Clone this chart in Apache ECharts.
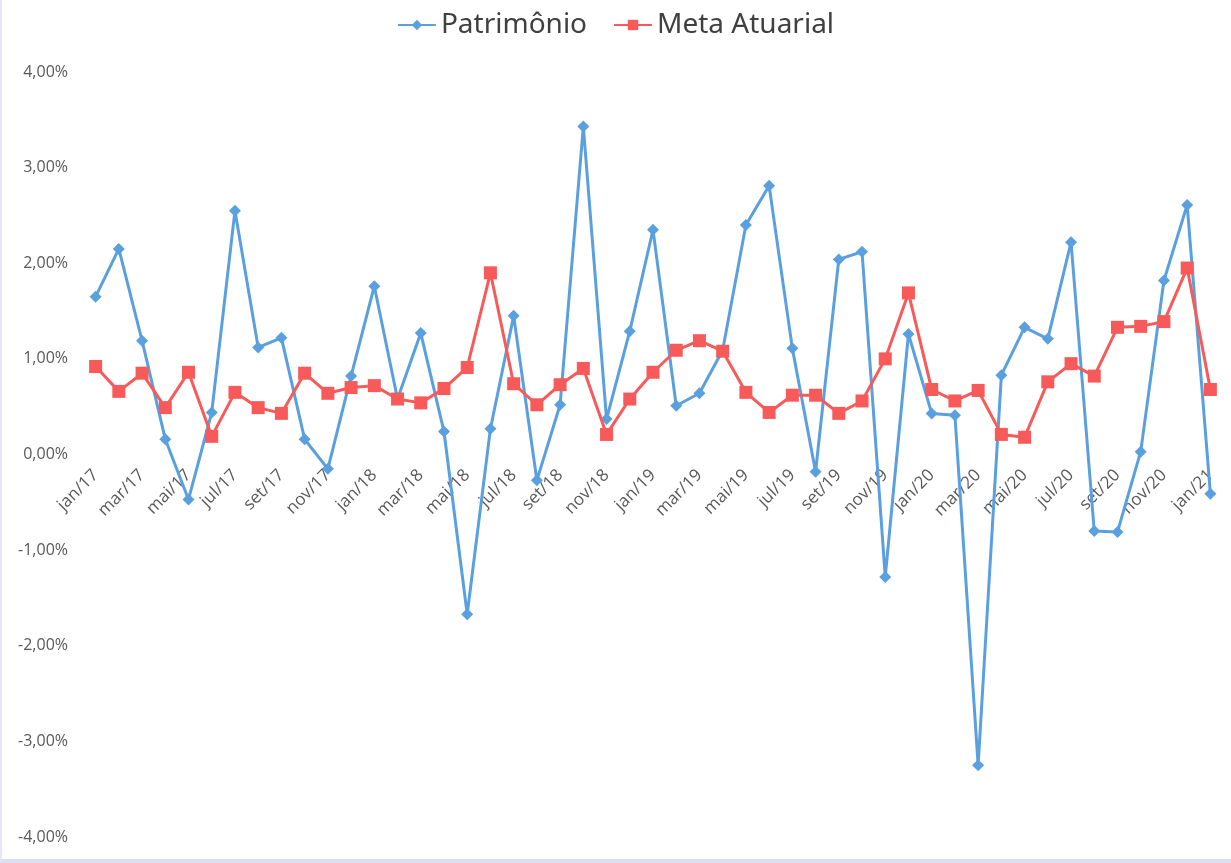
<!DOCTYPE html>
<html>
<head>
<meta charset="utf-8">
<script src="https://cdn.jsdelivr.net/npm/echarts@6/dist/echarts.min.js"></script>
<style>
  html, body { margin: 0; padding: 0; background: #fff; }
  #wrap { position: relative; width: 1231px; height: 863px; }
  #chart { width: 1231px; height: 863px; }
  #frame { position: absolute; left: 0; top: 0; width: 1231px; height: 863px;
           box-sizing: border-box; border-left: 2px solid #E6E6F8; border-bottom: 4px solid #DEDEF4;
           pointer-events: none; }
</style>
</head>
<body>
<div id="wrap"><div id="chart"></div><div id="frame"></div></div>
<script>
const categories = [
  'jan/17','fev/17','mar/17','abr/17','mai/17','jun/17','jul/17','ago/17','set/17','out/17','nov/17','dez/17',
  'jan/18','fev/18','mar/18','abr/18','mai/18','jun/18','jul/18','ago/18','set/18','out/18','nov/18','dez/18',
  'jan/19','fev/19','mar/19','abr/19','mai/19','jun/19','jul/19','ago/19','set/19','out/19','nov/19','dez/19',
  'jan/20','fev/20','mar/20','abr/20','mai/20','jun/20','jul/20','ago/20','set/20','out/20','nov/20','dez/20',
  'jan/21'
];
const patrimonio = [
  1.65, 2.15, 1.19, 0.16, -0.47, 0.44, 2.55, 1.12, 1.22, 0.16, -0.15, 0.82,
  1.76, 0.58, 1.27, 0.24, -1.67, 0.27, 1.45, -0.27, 0.52, 3.43, 0.37, 1.29,
  2.35, 0.51, 0.64, 1.09, 2.40, 2.81, 1.11, -0.18, 2.04, 2.12, -1.28, 1.26,
  0.43, 0.41, -3.25, 0.83, 1.33, 1.21, 2.22, -0.80, -0.81, 0.03, 1.82, 2.61,
  -0.41
];
const metaAtuarial = [
  0.92, 0.66, 0.85, 0.49, 0.86, 0.19, 0.65, 0.49, 0.43, 0.85, 0.64, 0.70,
  0.72, 0.58, 0.54, 0.69, 0.91, 1.90, 0.74, 0.52, 0.73, 0.90, 0.21, 0.58,
  0.86, 1.09, 1.19, 1.08, 0.65, 0.44, 0.62, 0.62, 0.43, 0.56, 1.00, 1.69,
  0.68, 0.56, 0.67, 0.21, 0.18, 0.76, 0.95, 0.82, 1.33, 1.34, 1.39, 1.95,
  0.68
];
const seriesNames = ['Patrimônio', 'Meta Atuarial'];

const gridTop = 72, gridBottom = 26, chartH = 863;
const yMin = -4, yMax = 4;
// place the category axis (with its labels) at the zero line of the value axis
const plotH = chartH - gridTop - gridBottom;
const zeroOffset = -plotH * (0 - yMin) / (yMax - yMin);

const chart = echarts.init(document.getElementById('chart'), null, { renderer: 'canvas' });
chart.setOption({
  backgroundColor: '#ffffff',
  animation: false,
  legend: {
    top: 6,
    left: 'center',
    itemGap: 26,
    itemWidth: 38,
    itemHeight: 13,
    textStyle: { fontFamily: 'Noto Sans', fontSize: 28, color: '#404040' },
    data: seriesNames
  },
  grid: { left: 84, right: 9, top: gridTop, bottom: gridBottom, containLabel: false },
  xAxis: {
    type: 'category',
    data: categories,
    boundaryGap: true,
    offset: zeroOffset,
    axisLine: { show: false, onZero: false },
    axisTick: { show: false },
    axisLabel: {
      interval: 1,
      rotate: 45,
      margin: 18,
      fontFamily: 'Open Sans',
      fontSize: 17,
      color: '#595959'
    },
    splitLine: { show: false }
  },
  yAxis: {
    type: 'value',
    min: yMin,
    max: yMax,
    interval: 1,
    axisLine: { show: false },
    axisTick: { show: false },
    splitLine: { show: false },
    axisLabel: {
      margin: 16,
      fontFamily: 'Open Sans',
      fontSize: 16,
      color: '#595959',
      formatter: v => v.toFixed(2).replace('.', ',') + '%'
    }
  },
  series: [
    {
      name: seriesNames[0],
      type: 'line',
      data: patrimonio,
      symbol: 'diamond',
      symbolSize: 12,
      lineStyle: { width: 3, color: '#5AA0DE' },
      itemStyle: { color: '#5AA0DE' },
      z: 2
    },
    {
      name: seriesNames[1],
      type: 'line',
      data: metaAtuarial,
      symbol: 'rect',
      symbolSize: 13,
      lineStyle: { width: 3, color: '#F85A5A' },
      itemStyle: { color: '#F85A5A' },
      z: 3
    }
  ]
});
</script>
</body>
</html>
